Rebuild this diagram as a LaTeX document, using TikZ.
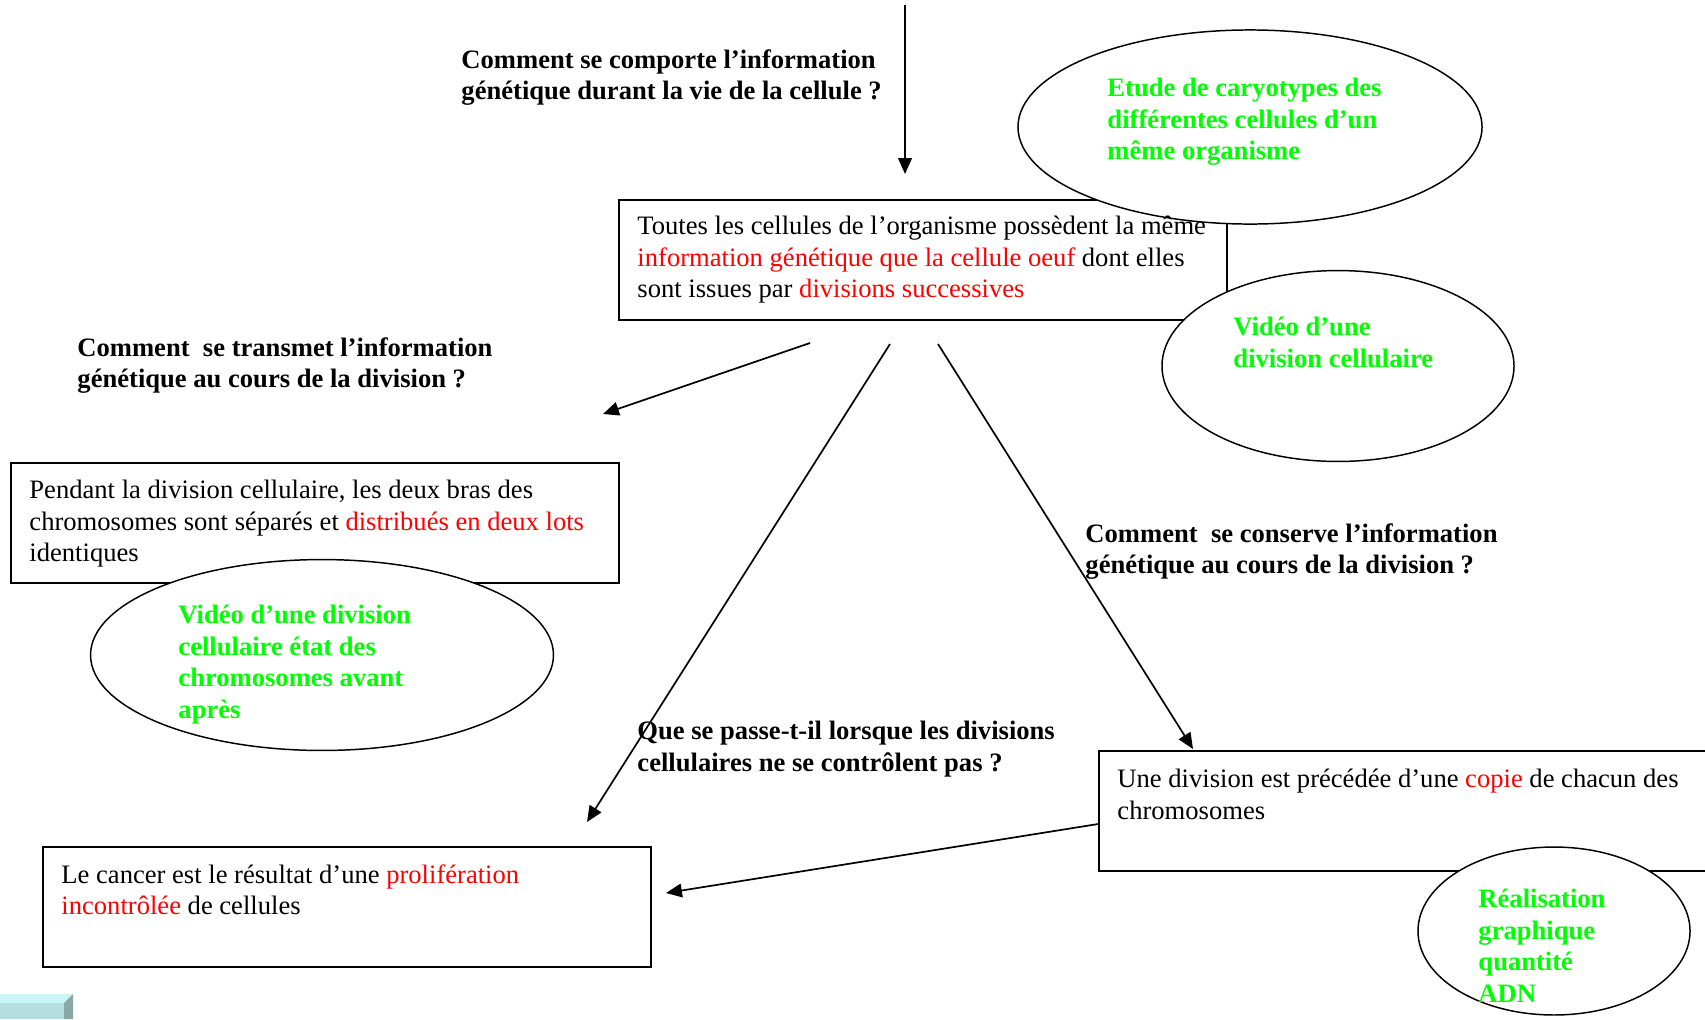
\documentclass[tikz,border=0pt]{standalone}
\usepackage{fontspec}
\setmainfont{Liberation Serif}
\usetikzlibrary{shapes.geometric,arrows.meta}

\definecolor{rouge}{RGB}{255,0,0}
\definecolor{vert}{RGB}{0,255,0}
\definecolor{cubehaut}{RGB}{200,245,245}
\definecolor{cubeface}{RGB}{180,222,224}
\definecolor{cubecote}{RGB}{136,168,168}
\newcommand{\rg}[1]{\textcolor{rouge}{#1}}

\begin{document}
\begin{tikzpicture}[x=0.44pt, y=-0.44pt,
        cadre/.style = {draw, line width=0.9pt, anchor=north west, inner sep=0pt,
                        minimum width=267.5pt, minimum height=52.8pt},
        bulle/.style = {ellipse, draw, fill=white, line width=0.65pt, inner sep=0pt},
        texte/.style = {anchor=north west, align=left, inner sep=0pt,
                        font=\fontsize{11.7}{13.86}\selectfont, execute at begin node=\strut},
        question/.style = {texte, font=\fontsize{11.7}{13.86}\selectfont\bfseries},
        piste/.style = {question, text=vert},
        fleche/.style = {-{Triangle[length=7pt,width=6pt]}, line width=0.75pt}
    ]
    \clip (0,0) rectangle (1705,1019);
    % cadres
    \node[cadre] (b1) at (618,199) {};
    \node[cadre] (b2) at (10,462) {};
    \node[cadre] (b3) at (1098,750) {};
    \node[cadre] (b4) at (42,846) {};
    % bulles
    \node[bulle, minimum width=204.2pt, minimum height=85.4pt] (e1) at (1250,127) {};
    \node[bulle, minimum width=154.9pt, minimum height=84pt] (e2) at (1338,366) {};
    \node[bulle, minimum width=203.7pt, minimum height=84pt] (e3) at (322,655) {};
    \node[bulle, minimum width=119.7pt, minimum height=73.9pt] (e4) at (1554,931) {};
    % textes des cadres
    \node[texte] (t1) at ([shift={(19,17)}]b1.north west)
        {Toutes les cellules de l’organisme possèdent la même\\
         \rg{information génétique que la cellule oeuf} dont elles\\
         sont issues par \rg{divisions successives}};
    \node[texte] (t2) at ([shift={(19,18)}]b2.north west)
        {Pendant la division cellulaire, les deux bras des\\
         chromosomes sont séparés et \rg{distribués en deux lots}\\
         identiques};
    \node[texte] (t3) at ([shift={(19,19)}]b3.north west)
        {Une division est précédée d’une \rg{copie} de chacun des\\
         chromosomes};
    \node[texte] (t4) at ([shift={(19,18)}]b4.north west)
        {Le cancer est le résultat d’une \rg{prolifération}\\
         \rg{incontrôlée} de cellules};
    % textes des bulles
    \node[piste] (p1) at (1107,78) {Etude de caryotypes des\\ différentes cellules d’un\\ même organisme};
    \node[piste] (p2) at (1233,317) {Vidéo d’une\\ division cellulaire};
    \node[piste] (p3) at (178,605) {Vidéo d’une division\\ cellulaire état des\\ chromosomes avant\\ après};
    \node[piste] (p4) at (1478,889) {Réalisation\\ graphique\\ quantité\\ ADN};
    % questions
    \node[question] (q1) at (461,49) {Comment se comporte l’information\\ génétique durant la vie de la cellule ?};
    \node[question] (q2) at (77,337) {Comment\ \ se transmet l’information\\ génétique au cours de la division ?};
    \node[question] (q3) at (1085,523) {Comment\ \ se conserve l’information\\ génétique au cours de la division ?};
    \node[question] (q4) at (637,721) {Que se passe-t-il lorsque les divisions\\ cellulaires ne se contrôlent pas ?};
    % fleches
    \coordinate (d1) at (905,5);
    \coordinate (f1) at (905,174);
    \coordinate (d2) at (810,343);
    \coordinate (f2) at (603,414);
    \coordinate (d3) at (890,344);
    \coordinate (f3) at (587,822);
    \coordinate (d4) at (938,344);
    \coordinate (f4) at (1193,749);
    \coordinate (f5) at (666,893);
    \draw[fleche, line width=1pt] (d1) -- (f1);
    \draw[fleche] (d2) -- (f2);
    \draw[fleche] (d3) -- (f3);
    \draw[fleche] (d4) -- (f4);
    \draw[fleche] ([shift={(0,13)}]b3.west) -- (f5);
    % petit cube
    \fill[cubehaut] (0,994) -- (73,994) -- (64,1003) -- (0,1003) -- cycle;
    \fill[cubeface] (0,1003) rectangle (64,1019);
    \fill[cubecote] (64,1003) -- (73,994) -- (73,1019) -- (64,1019) -- cycle;
\end{tikzpicture}
\end{document}
